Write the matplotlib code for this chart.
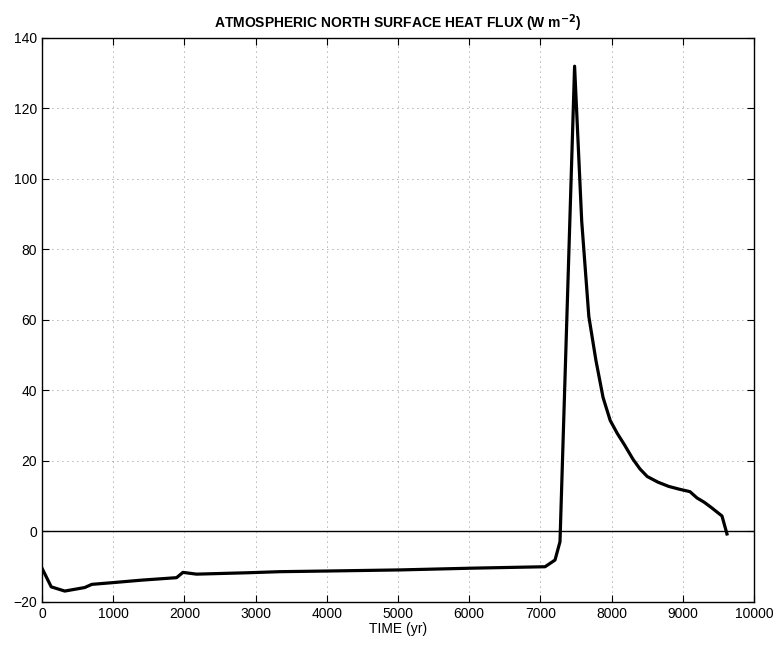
import matplotlib
matplotlib.use('Agg')
import matplotlib.pyplot as plt

plt.rcParams['font.family'] = ['Liberation Sans', 'DejaVu Sans']

# time (yr) and heat flux (W m-2)
years = [0, 130, 320, 600, 700, 1000, 1400, 1890, 1980, 2170, 2900, 3340, 4050,
         5030, 6050, 7065, 7205, 7275, 7480, 7580, 7680, 7780, 7880, 7980,
         8080, 8180, 8300, 8400, 8500, 8650, 8800, 8950, 9100, 9200, 9300,
         9400, 9550, 9620]
flux = [-10.4, -15.7, -16.9, -15.9, -15.0, -14.5, -13.8, -13.1, -11.6, -12.1,
        -11.7, -11.4, -11.2, -10.9, -10.4, -10.0, -8.1, -2.9, 132.0, 88.0,
        61.0, 48.5, 38.0, 31.5, 27.8, 24.6, 20.5, 17.7, 15.6, 14.0, 12.8,
        12.0, 11.3, 9.5, 8.3, 6.8, 4.4, -0.7]

fig = plt.figure(figsize=(7.83, 6.48), dpi=100)
ax = fig.add_axes([0.0536, 0.071, 0.9094, 0.8704])

ax.axhline(0, color='k', linewidth=1.0)
ax.plot(years, flux, color='k', linewidth=2.3)

ax.set_xlim(0, 10000)
ax.set_ylim(-20, 140)
ax.set_xticks(range(0, 10001, 1000))
ax.set_yticks(range(-20, 141, 20))
ax.set_yticklabels(['\u221220'] + [str(v) for v in range(0, 141, 20)])

ax.grid(True, linestyle=(0, (1, 5)), color='k', linewidth=0.6, alpha=0.6)
ax.tick_params(direction='in', top=True, right=True, length=5, labelsize=10)
for s in ax.spines.values():
    s.set_linewidth(1.0)

ax.set_xlabel('TIME (yr)', fontsize=10, labelpad=1)
ax.set_title('ATMOSPHERIC NORTH SURFACE HEAT FLUX (W m$^{\\mathbf{-2}}$)',
             fontsize=10, fontweight='bold', pad=7)

fig.savefig('out.png', dpi=100)
